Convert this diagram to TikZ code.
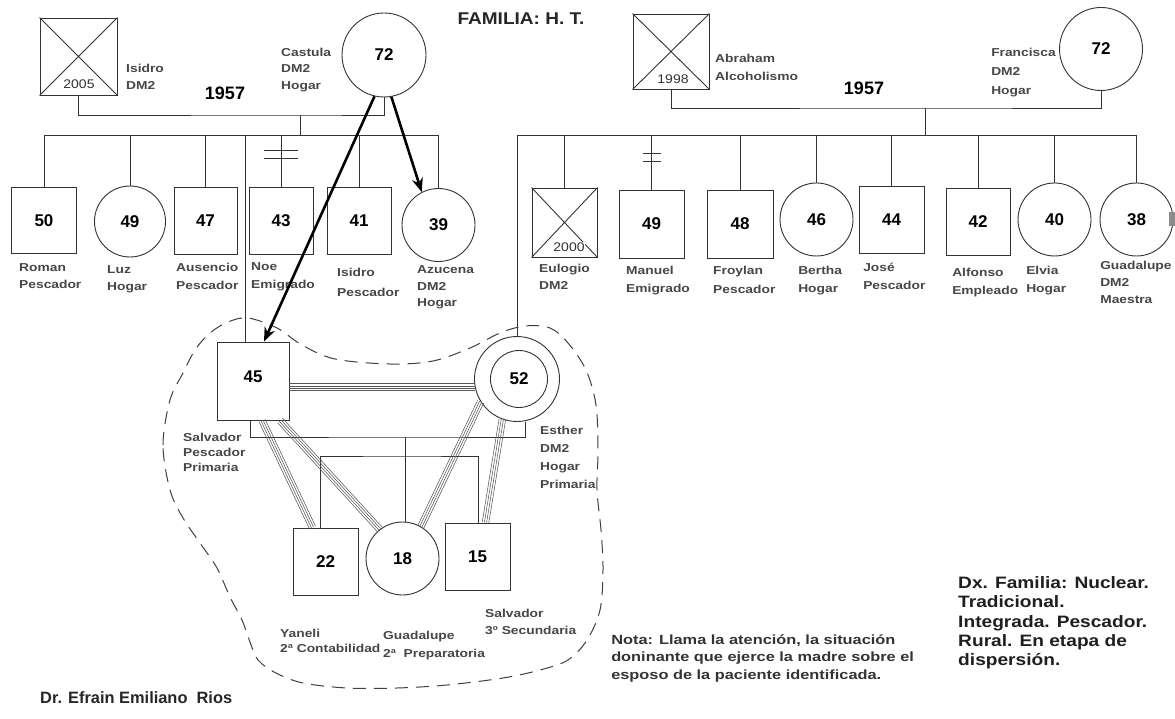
\documentclass[tikz,border=0pt]{standalone}
\usepackage{fontspec}
\setmainfont{Liberation Sans}
\usetikzlibrary{arrows.meta,calc}
\newcommand\numfnt{\fontsize{17}{20}\selectfont\bfseries}
\newcommand\quadrel[2]{%
  \foreach \qq in {-3.3,-1.1,1.1,3.3}{\draw[rel] ($(#1)!\qq pt!90:(#2)$) -- ($(#2)!\qq pt!-90:(#1)$);}}
\begin{document}
\begin{tikzpicture}[x=1pt,y=-1pt,
  ln/.style={line width=0.9pt, draw=black!80},
  rel/.style={line width=0.55pt, draw=black!65},
  male/.style={draw=black!80, line width=0.9pt, rectangle, minimum width=65pt, minimum height=66pt, inner sep=0pt, font=\numfnt},
  female/.style={draw=black!80, line width=0.9pt, circle, minimum size=72pt, inner sep=0pt, font=\numfnt},
  yr/.style={fill=white, inner sep=0.6pt, font=\fontsize{12.5}{14}\selectfont, text=black!80, xscale=1.12, transform shape},
  lab/.style={font={\fontsize{11.5}{#1}\selectfont\bfseries}, text=black!72, align=left, anchor=north west, inner sep=0pt, xscale=1.2, transform shape},
  lab/.default=17,
  big/.style={font={\fontsize{18}{20}\selectfont\bfseries}, inner sep=0pt},
  arr/.style={line width=2.6pt, draw=black, -{Stealth[length=14pt,width=11pt]}},
  hh/.style={line width=1pt, draw=black!75, dash pattern=on 13pt off 8pt}]
\fill[white] (0,0) rectangle (1175,719);
\useasboundingbox (0,0) rectangle (1175,719);
\coordinate (sibL) at (0,135);

\node[font={\fontsize{17}{20}\selectfont\bfseries}, text=black!85, xscale=1.12, transform shape] (title) at (521,19) {FAMILIA: H. T.};

% ---------- left grandparents
\node[male, minimum width=77pt, minimum height=77pt] (IsidroP) at (78.5,56.5) {};
\draw[ln] (IsidroP.north west) -- (IsidroP.south east) (IsidroP.north east) -- (IsidroP.south west);
\node[yr] (y2005) at (79,84) {2005};
\node[female, minimum size=84pt] (Castula) at (384,55) {72};
\coordinate (mL) at (300,115);
\draw[ln] (IsidroP.south) |- (mL) -| (Castula.south);
\draw[ln] (mL) -- (mL |- sibL);
\node[big] (y1957a) at (225,93) {1957};
\node[lab] (lIsidroP) at (126,63.5) {Isidro\\DM2};
\node[lab=16.5] (lCastula) at (281,47.5) {Castula\\DM2\\Hogar};

% ---------- left siblings
\node[male] (Roman) at (44,220.5) {50};
\node[female, minimum size=71pt] (Luz) at (130,221.5) {49};
\node[male, minimum width=63pt, minimum height=67pt] (Ausencio) at (205.5,221) {47};
\node[male, minimum width=64pt, minimum height=67pt] (Noe) at (281,221) {43};
\node[male, minimum width=64pt, minimum height=67pt] (IsidroH) at (359,221) {41};
\node[female, minimum size=73pt] (Azucena) at (438.5,225) {39};
\draw[ln] (Roman.north |- sibL) -- (Azucena.north |- sibL);
\foreach \nn in {Roman,Luz,Ausencio,Noe,IsidroH,Azucena}{\draw[ln] (\nn.north) -- (\nn.north |- sibL);}
\draw[ln] ($(Noe.north |- sibL)+(-17,15)$) -- ++(34,0);
\draw[ln] ($(Noe.north |- sibL)+(-17,23)$) -- ++(34,0);
\node[lab] (lRoman) at (19,263.5) {Roman\\Pescador};
\node[lab] (lLuz) at (107,265.5) {Luz\\Hogar};
\node[lab=18] (lAusencio) at (176,262.5) {Ausencio\\Pescador};
\node[lab=18] (lNoe) at (251,262.5) {Noe\\Emigrado};
\node[lab=20] (lIsidroH) at (337,267.5) {Isidro\\Pescador};
\node[lab=16.5] (lAzucena) at (417,265.5) {Azucena\\DM2\\Hogar};

% ---------- right grandparents
\node[male, minimum width=76pt, minimum height=75pt] (Abraham) at (671,51.5) {};
\draw[ln] (Abraham.north west) -- (Abraham.south east) (Abraham.north east) -- (Abraham.south west);
\node[yr] (y1998) at (673,79) {1998};
\node[female, minimum size=83pt] (Francisca) at (1101,49) {72};
\coordinate (mR) at (925,108);
\draw[ln] (Abraham.south) |- (mR) -| (Francisca.south);
\draw[ln] (mR) -- (mR |- sibL);
\node[big] (y1957b) at (864,88) {1957};
\node[lab=18] (lAbraham) at (715,53.5) {Abraham\\Alcoholismo};
\node[lab=19] (lFrancisca) at (991,47.5) {Francisca\\DM2\\Hogar};

% ---------- right siblings
\node[male, minimum height=69pt] (Eulogio) at (564.5,222.5) {};
\draw[ln] (Eulogio.north west) -- (Eulogio.south east) (Eulogio.north east) -- (Eulogio.south west);
\node[yr] (y2000) at (569,247) {2000};
\node[male, minimum height=68pt] (Manuel) at (651.5,224) {49};
\node[male, minimum width=66pt, minimum height=68pt] (Froylan) at (740,224) {48};
\node[female, minimum size=73pt] (Bertha) at (816.5,219.5) {46};
\node[male, minimum height=67pt] (Jose) at (891.5,219.5) {44};
\node[male, minimum width=64pt, minimum height=67pt] (Alfonso) at (978,221.5) {42};
\node[female, minimum size=73pt] (Elvia) at (1054.5,219.5) {40};
\node[female, minimum size=73pt] (GuadaP) at (1136.5,219.5) {38};
\fill[black!45] (1169,212) rectangle (1177,226);

% ---------- nuclear family
\node[male, minimum width=72pt, minimum height=78pt] (Salvador) at (253,381) {\raisebox{8pt}{45}};
\node[female, minimum size=85pt] (Esther) at (517,379) {};
\node[female, minimum size=57pt] (EstherIn) at (519,379) {52};
\draw[ln] (Esther.north |- sibL) -- (GuadaP.north |- sibL);
\foreach \nn in {Esther,Eulogio,Manuel,Froylan,Bertha,Jose,Alfonso,Elvia,GuadaP}{\draw[ln] (\nn.north) -- (\nn.north |- sibL);}
\draw[ln] ($(Manuel.north |- sibL)+(-9,18)$) -- ++(18,0);
\draw[ln] ($(Manuel.north |- sibL)+(-9,26)$) -- ++(18,0);
\node[lab] (lEulogio) at (539,263.5) {Eulogio\\DM2};
\node[lab=18] (lManuel) at (626,265.5) {Manuel\\Emigrado};
\node[lab=19] (lFroylan) at (713,265.5) {Froylan\\Pescador};
\node[lab=18] (lBertha) at (798,265.5) {Bertha\\Hogar};
\node[lab=18] (lJose) at (863,262.5) {José\\Pescador};
\node[lab=18] (lAlfonso) at (952,267.5) {Alfonso\\Empleado};
\node[lab=18] (lElvia) at (1026,265.5) {Elvia\\Hogar};
\node[lab=17] (lGuadaP) at (1100,260.5) {Guadalupe\\DM2\\Maestra};

\draw[ln] ([xshift=-8pt]Salvador.north) -- ([xshift=-8pt]Salvador.north |- sibL);

\node[male, minimum height=67pt] (Yaneli) at (325.5,561.5) {22};
\node[female, minimum size=73pt] (GuadaJ) at (402.5,558.5) {18};
\node[male, minimum height=67pt] (SalvJ) at (477.5,556.5) {15};

\coordinate (mN) at (405,437);
\draw[ln] ([xshift=-3pt]Salvador.south) |- (mN) -| ([xshift=8pt]Esther.south);
\coordinate (cN) at (405,456);
\draw[ln] (mN) -- (mN |- GuadaJ.north);
\draw[ln] ([xshift=-5.5pt]Yaneli.north) |- (cN) -| ([xshift=0.5pt]SalvJ.north);

% relationship bundles
\coordinate (rH1) at ([yshift=-6pt]Salvador.east);
\coordinate (rH2) at ($(rH1 -| Esther.west)+(1,0)$);
\quadrel{rH1}{rH2}
\coordinate (rA1) at ([xshift=9pt]Salvador.south);
\coordinate (rA2) at ([xshift=-13pt]Yaneli.north);
\quadrel{rA1}{rA2}
\coordinate (rB1) at ([xshift=27pt]Salvador.south);
\coordinate (rB2) at (GuadaJ.128);
\quadrel{rB1}{rB2}
\coordinate (rC1) at (Esther.212);
\coordinate (rC2) at (GuadaJ.60);
\quadrel{rC1}{rC2}
\coordinate (rD1) at (Esther.250);
\coordinate (rD2) at ([xshift=8pt]SalvJ.north);
\quadrel{rD1}{rD2}

\node[lab=15] (lSalvador) at (183,432.5) {Salvador\\Pescador\\Primaria};
\node[lab=18] (lEsther) at (540,425.5) {Esther\\DM2\\Hogar\\Primaria};
\node[lab=15] (lYaneli) at (280,628.5) {Yaneli\\2ª Contabilidad};
\node[lab=18] (lGuadaJ) at (383,630.5) {Guadalupe\\2ª\ \ Preparatoria};
\node[lab=17] (lSalvJ) at (485,608.5) {Salvador\\3º Secundaria};

% household boundary
\draw[hh] plot[smooth cycle, tension=0.55] coordinates {
 (170,490) (163,445) (170,400) (183,373) (195,350) (210,333) (228,322) (248,318) (277,328)
 (302,345) (335,359) (390,364) (433,361) (470,348) (500,333) (525,326) (550,328) (568,343)
 (586,370) (596,405) (598,450) (597,490) (601,530) (603,570) (600,610) (587,640) (568,660)
 (540,670) (503,678) (447,685) (397,688) (347,688) (303,683) (276,673) (258,660) (250,642)
 (242,620) (230,597) (217,568) (200,543) (183,518)};

% arrows
\draw[arr] (Castula.257) -- ([xshift=11pt]Salvador.north);
\draw[arr] (Castula.280) -- (Azucena.117);

% notes
\node[font={\fontsize{16.4}{18}\selectfont\bfseries}, text=black!85, anchor=west, inner sep=0pt] (doctor) at (40,698) {Dr. Efrain Emiliano\ \ Rios};
\node[font={\fontsize{13.3}{17.5}\selectfont\bfseries}, text=black!80, align=left, anchor=north west, inner sep=0pt, xscale=1.23, transform shape] (nota) at (611,634.5) {Nota: Llama la atención, la situación\\doninante que ejerce la madre sobre el\\esposo de la paciente identificada.};
\node[font={\fontsize{16.5}{19.2}\selectfont\bfseries}, text=black!88, align=left, anchor=north west, inner sep=0pt, xscale=1.16, transform shape] (dx) at (958,576.5) {Dx. Familia: Nuclear.\\Tradicional.\\Integrada. Pescador.\\Rural. En etapa de\\dispersión.};
\end{tikzpicture}
\end{document}
